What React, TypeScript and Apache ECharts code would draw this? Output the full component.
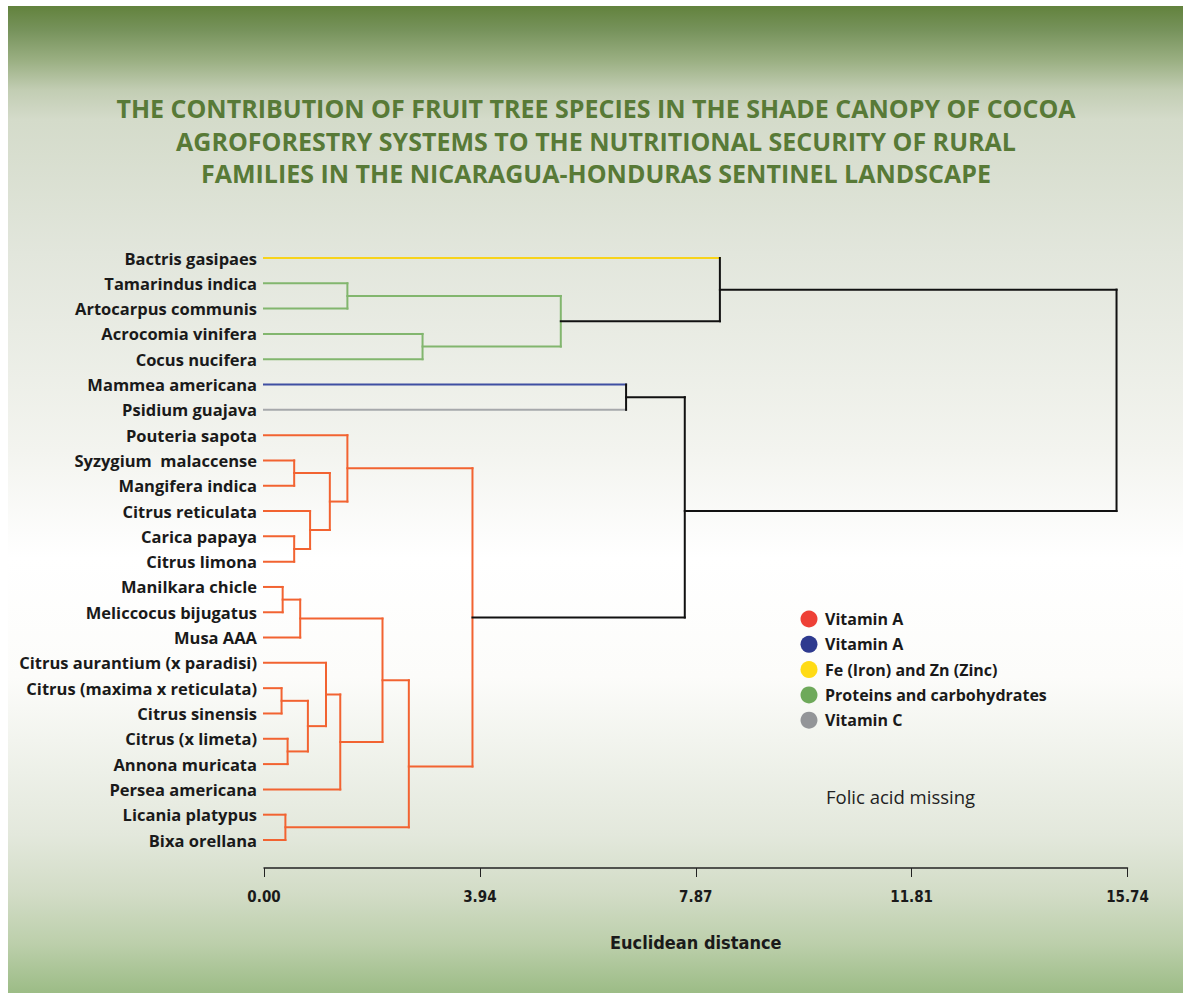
import React, { useEffect, useRef } from "react";
import * as echarts from "echarts";

const titleLines = [
  "THE CONTRIBUTION OF FRUIT TREE SPECIES IN THE SHADE CANOPY OF COCOA",
  "AGROFORESTRY SYSTEMS TO THE NUTRITIONAL SECURITY OF RURAL",
  "FAMILIES IN THE NICARAGUA-HONDURAS SENTINEL LANDSCAPE",
];

const leaves = [
  "Bactris gasipaes",
  "Tamarindus indica",
  "Artocarpus communis",
  "Acrocomia vinifera",
  "Cocus nucifera",
  "Mammea americana",
  "Psidium guajava",
  "Pouteria sapota",
  "Syzygium  malaccense",
  "Mangifera indica",
  "Citrus reticulata",
  "Carica papaya",
  "Citrus limona",
  "Manilkara chicle",
  "Meliccocus bijugatus",
  "Musa AAA",
  "Citrus aurantium (x paradisi)",
  "Citrus (maxima x reticulata)",
  "Citrus sinensis",
  "Citrus (x limeta)",
  "Annona muricata",
  "Persea americana",
  "Licania platypus",
  "Bixa orellana",
];

// group of each leaf: 0 orange, 1 blue, 2 yellow, 3 green, 4 gray
const leafGroup = [2, 3, 3, 3, 3, 1, 4, 0, 0, 0, 0, 0, 0, 0, 0, 0, 0, 0, 0, 0, 0, 0, 0, 0];

// merges: [child A, child B, Euclidean distance]; ids >= 24 are earlier merges
const merges: [number, number, number][] = [
  [1, 2, 1.52],   // 24
  [3, 4, 2.89],   // 25
  [24, 25, 5.41], // 26
  [0, 26, 8.31],  // 27
  [5, 6, 6.6],    // 28
  [8, 9, 0.55],   // 29
  [11, 12, 0.55], // 30
  [10, 30, 0.84], // 31
  [29, 31, 1.2],  // 32
  [7, 32, 1.52],  // 33
  [13, 14, 0.34], // 34
  [34, 15, 0.66], // 35
  [17, 18, 0.32], // 36
  [19, 20, 0.43], // 37
  [36, 37, 0.8],  // 38
  [16, 38, 1.13], // 39
  [39, 21, 1.39], // 40
  [35, 40, 2.16], // 41
  [22, 23, 0.39], // 42
  [41, 42, 2.64], // 43
  [33, 43, 3.8],  // 44
  [28, 44, 7.67], // 45
  [27, 45, 15.54],// 46
];
const nodePosOverride: Record<number, number> = { 43: 20.1, 45: 10.0 };

const lineColors = ["#f26331", "#3f4fa2", "#f7d31b", "#82b66e", "#a6a8ab"];
const legendLabels = ["Vitamin A", "Vitamin A", "Fe (Iron) and Zn (Zinc)", "Proteins and carbohydrates", "Vitamin C"];
const legendColors = ["#ee4036", "#2e3a8f", "#ffdb15", "#6ea95a", "#939598"];

const tickValues = [0, 3.935, 7.87, 11.805, 15.74];
const tickLabels = ["0.00", "3.94", "7.87", "11.81", "15.74"];
const axisMax = 15.74;
const axisName = "Euclidean distance";
const note = "Folic acid missing";

function buildSegments() {
  const n = leaves.length;
  const pos: number[] = leaves.map((_, i) => i);
  const height: number[] = leaves.map(() => 0);
  const group: number[] = [...leafGroup];
  const segs: number[][] = [];
  merges.forEach(([a, b, h], k) => {
    const id = n + k;
    const g = group[a] === group[b] ? group[a] : -1;
    const p = nodePosOverride[id] !== undefined ? nodePosOverride[id] : (pos[a] + pos[b]) / 2;
    pos[id] = p;
    height[id] = h;
    group[id] = g;
    [a, b].forEach((c) => {
      const col = c < n ? group[c] : group[c] === g ? g : -1;
      segs.push([height[c], pos[c], h, pos[c], col]);
    });
    segs.push([h, pos[a], h, pos[b], g]);
  });
  return segs;
}

const LABEL_FONT = "'Open Sans', 'Noto Sans', sans-serif";
const COND_FONT = "'Liberation Sans Narrow', 'DejaVu Sans Condensed', 'Open Sans', sans-serif";

export default function App() {
  const ref = useRef<HTMLDivElement>(null);
  useEffect(() => {
    document.body.style.margin = "0";
    if (!ref.current) return;
    const chart = echarts.init(ref.current, undefined, { renderer: "svg" });
    const segs = buildSegments();

    const graphic: any[] = [
      {
        type: "rect",
        z: -100,
        silent: true,
        shape: { x: 8, y: 6, width: 1175, height: 987 },
        style: {
          fill: new echarts.graphic.LinearGradient(0, 0, 0, 1, [
            { offset: 0, color: "#62823d" },
            { offset: 0.025, color: "#77935c" },
            { offset: 0.055, color: "#9aaf82" },
            { offset: 0.085, color: "#c2cdb3" },
            { offset: 0.115, color: "#d4dbca" },
            { offset: 0.25, color: "#e2e6dc" },
            { offset: 0.45, color: "#f3f4ef" },
            { offset: 0.56, color: "#ffffff" },
            { offset: 0.68, color: "#fcfcfa" },
            { offset: 0.84, color: "#e3e8dc" },
            { offset: 0.9, color: "#d2dcc6" },
            { offset: 0.95, color: "#bccfab" },
            { offset: 1, color: "#9cbc86" },
          ]),
        },
      },
    ];
    titleLines.forEach((t, i) => {
      graphic.push({
        type: "text",
        x: 596,
        y: 108 + i * 32.5,
        silent: true,
        style: {
          text: t,
          fill: "#587a37",
          font: `700 25px ${LABEL_FONT}`,
          textAlign: "center",
          textVerticalAlign: "middle",
          align: "center",
          verticalAlign: "middle",
        },
      });
    });
    legendLabels.forEach((t, i) => {
      const y = 619 + i * 25.3;
      graphic.push({
        type: "circle",
        silent: true,
        shape: { cx: 809, cy: y, r: 8.5 },
        style: { fill: legendColors[i] },
      });
      graphic.push({
        type: "text",
        x: 825,
        y,
        silent: true,
        style: {
          text: t,
          fill: "#1a1a1a",
          font: `700 16px ${LABEL_FONT}`,
          textAlign: "left",
          textVerticalAlign: "middle",
          align: "left",
          verticalAlign: "middle",
        },
      });
    });
    graphic.push({
      type: "text",
      x: 826,
      y: 796,
      silent: true,
      style: {
        text: note,
        fill: "#222",
        font: `400 18.5px ${LABEL_FONT}`,
        textAlign: "left",
        textVerticalAlign: "middle",
        align: "left",
        verticalAlign: "middle",
      },
    });

    chart.setOption({
      animation: false,
      backgroundColor: "#ffffff",
      graphic,
      grid: { left: 264, top: 258, width: 863.5, height: 582 },
      xAxis: {
        type: "value",
        min: 0,
        max: axisMax,
        position: "bottom",
        offset: 28,
        axisLine: { show: true, onZero: false, lineStyle: { color: "#222", width: 1.5 } },
        axisTick: { show: true, customValues: tickValues, length: 9, lineStyle: { color: "#222", width: 1 } },
        axisLabel: {
          customValues: tickValues,
          margin: 21,
          fontFamily: COND_FONT,
          fontWeight: 700,
          fontSize: 15,
          color: "#1a1a1a",
          formatter: (v: number) => {
            let best = 0;
            tickValues.forEach((tv, i) => {
              if (Math.abs(tv - v) < Math.abs(tickValues[best] - v)) best = i;
            });
            return tickLabels[best];
          },
        },
        splitLine: { show: false },
        name: axisName,
        nameLocation: "middle",
        nameGap: 65,
        nameTextStyle: { fontFamily: COND_FONT, fontWeight: 700, fontSize: 18, color: "#1a1a1a" },
      },
      yAxis: [
        { type: "value", min: 0, max: leaves.length - 1, inverse: true, show: false, position: "left" },
        {
          type: "category",
          data: leaves,
          boundaryGap: false,
          inverse: true,
          position: "left",
          axisLine: { show: false },
          axisTick: { show: false },
          splitLine: { show: false },
          axisLabel: {
            margin: 7,
            interval: 0,
            fontFamily: LABEL_FONT,
            fontWeight: 700,
            fontSize: 16.5,
            color: "#1a1a1a",
          },
        },
      ],
      series: [
        {
          type: "custom",
          coordinateSystem: "cartesian2d",
          xAxisIndex: 0,
          yAxisIndex: 0,
          silent: true,
          clip: false,
          data: segs,
          encode: { x: [0, 2], y: [1, 3] },
          renderItem: (_params: any, api: any) => {
            const p1 = api.coord([api.value(0), api.value(1)]);
            const p2 = api.coord([api.value(2), api.value(3)]);
            const ci = api.value(4) as number;
            return {
              type: "line",
              shape: { x1: p1[0], y1: p1[1], x2: p2[0], y2: p2[1] },
              style: {
                stroke: ci < 0 ? "#111111" : lineColors[ci],
                lineWidth: 2,
                lineCap: "square",
              },
            };
          },
        },
      ],
    });
    return () => chart.dispose();
  }, []);
  return <div ref={ref} style={{ width: 1189, height: 994 }} />;
}
